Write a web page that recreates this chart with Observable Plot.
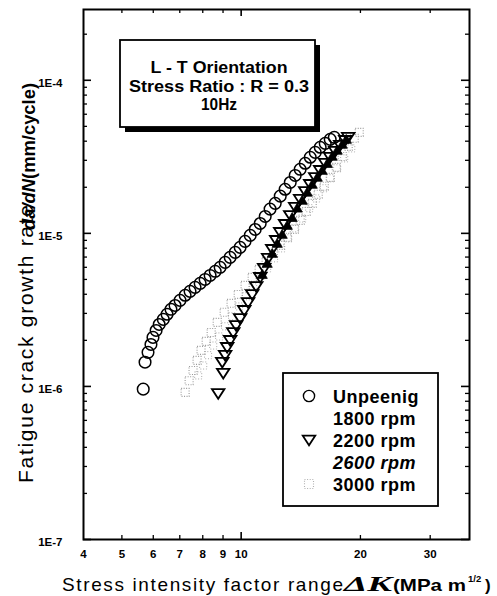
<!DOCTYPE html>
<html><head><meta charset="utf-8">
<script src="https://cdn.jsdelivr.net/npm/d3@7"></script>
<script src="https://cdn.jsdelivr.net/npm/@observablehq/plot@0.6"></script>
<style>
html,body{margin:0;padding:0;background:#fff;}
#chart{position:relative;width:497px;height:596px;}
</style></head><body><div id="chart"></div>
<script>
// ---- data ----
const seriesNames = ["Unpeenig", "1800 rpm", "2200 rpm", "2600 rpm", "3000 rpm"];

const unpeenK = [5.66,5.72,5.82,5.92,5.99,6.10,6.21,6.36,6.50,6.65,6.81,7.01,7.22,7.43,7.65,7.88,8.11,8.35,8.60,8.85,9.11,9.38,9.66,9.94,10.23,10.54,10.85,11.17,11.50,11.83,12.19,12.55,12.91,13.30,13.69,14.09,14.51,14.94,15.38,15.83,16.30,16.78,17.18];
const unpeenRate = [9.6e-7,1.44e-6,1.67e-6,1.88e-6,2.09e-6,2.32e-6,2.54e-6,2.74e-6,2.96e-6,3.19e-6,3.38e-6,3.65e-6,3.94e-6,4.18e-6,4.44e-6,4.71e-6,5.00e-6,5.31e-6,5.65e-6,6.00e-6,6.46e-6,6.97e-6,7.51e-6,8.10e-6,8.87e-6,9.70e-6,1.06e-5,1.16e-5,1.29e-5,1.44e-5,1.57e-5,1.75e-5,1.94e-5,2.15e-5,2.39e-5,2.62e-5,2.87e-5,3.14e-5,3.38e-5,3.65e-5,3.87e-5,4.11e-5,4.24e-5];

const rpm1800K = [11.30,11.63,11.98,12.33,12.69,13.07,13.45,13.85,14.26,14.68,15.11,15.56,16.01,16.49,16.97,17.47,17.99,18.42];
const rpm1800Rate = [5.31e-6,6.27e-6,7.29e-6,8.47e-6,9.70e-6,1.11e-5,1.25e-5,1.44e-5,1.62e-5,1.83e-5,2.06e-5,2.29e-5,2.54e-5,2.82e-5,3.14e-5,3.44e-5,3.76e-5,4.05e-5];

const rpm2200K = [8.75,9.01,8.96,9.11,9.22,9.38,9.55,9.71,9.94,10.18,10.41,10.66,10.91,11.17,11.43,11.70,11.98,12.26,12.55,12.91,13.30,13.69,14.09,14.51,14.94,15.38,15.83,16.30,16.78,17.28,17.78,18.31,18.63];
const rpm2200Rate = [9.0e-7,1.22e-6,1.44e-6,1.60e-6,1.80e-6,2.00e-6,2.25e-6,2.50e-6,2.78e-6,3.14e-6,3.54e-6,3.99e-6,4.50e-6,5.16e-6,5.91e-6,6.87e-6,7.86e-6,9.00e-6,1.015e-5,1.145e-5,1.31e-5,1.48e-5,1.67e-5,1.88e-5,2.09e-5,2.32e-5,2.58e-5,2.87e-5,3.14e-5,3.44e-5,3.76e-5,4.05e-5,4.24e-5];

const rpm2600K = [7.79,8.02,8.25,8.50,8.80,9.11,9.49,9.88,10.29,10.72,11.17,11.63,12.11,12.62,13.14,13.69,14.26,14.85,15.46,16.11,16.78,17.47,18.20,18.96];
const rpm2600Rate = [1.18e-6,1.37e-6,1.60e-6,1.85e-6,2.12e-6,2.47e-6,2.87e-6,3.33e-6,3.88e-6,4.44e-6,5.08e-6,5.91e-6,6.87e-6,7.98e-6,9.28e-6,1.078e-5,1.25e-5,1.46e-5,1.69e-5,1.97e-5,2.29e-5,2.66e-5,3.09e-5,3.59e-5];

const rpm3000K = [7.22,7.39,7.56,7.74,7.92,8.16,8.40,8.70,9.06,9.43,9.83,10.23,10.66,11.10,11.56,12.05,12.55,13.07,13.61,14.09,14.59,15.11,15.65,16.21,16.78,17.38,17.99,18.63,19.29,19.86];
const rpm3000Rate = [9.14e-7,1.09e-6,1.27e-6,1.48e-6,1.72e-6,1.97e-6,2.25e-6,2.62e-6,3.05e-6,3.49e-6,3.99e-6,4.57e-6,5.16e-6,5.82e-6,6.56e-6,7.40e-6,8.35e-6,9.42e-6,1.062e-5,1.216e-5,1.39e-5,1.57e-5,1.80e-5,2.03e-5,2.32e-5,2.70e-5,3.18e-5,3.70e-5,4.18e-5,4.57e-5];

const xTickValues = [4,5,6,7,8,9,10,20,30];
const xTickLabels = ["4","5","6","7","8","9","10","20","30"];
const xMinorTicks = [5,6,7,8,9,20,30];
const xMajorTicks = [10];
const yMajorTicks = [1e-7,1e-6,1e-5,1e-4];
const yTickLabels = ["1E-7","1E-6","1E-5","1E-4"];
const yMinorTicks = [2e-7,3e-7,4e-7,5e-7,6e-7,7e-7,8e-7,9e-7,2e-6,3e-6,4e-6,5e-6,6e-6,7e-6,8e-6,9e-6,2e-5,3e-5,4e-5,5e-5,6e-5,7e-5,8e-5,9e-5,2e-4];

const boxLines = ["L - T Orientation", "Stress Ratio : R = 0.3", "10Hz"];

// ---- build ----
const zip = (k, r) => k.map((v, i) => ({k: v, r: r[i]}));
const W = 497, H = 596, mL = 83, mR = 28, mT = 9, mB = 57;
const fw = W - mL - mR, fh = H - mT - mB;

const triDown = {
  draw(ctx, size) {
    const r = Math.sqrt(size / Math.PI);
    ctx.moveTo(0, r * 1.0);
    ctx.lineTo(-r * 1.18, -r * 0.82);
    ctx.lineTo(r * 1.18, -r * 0.82);
    ctx.closePath();
  }
};

const plot = Plot.plot({
  width: W, height: H,
  marginLeft: mL, marginRight: mR, marginTop: mT, marginBottom: mB,
  x: {type: "log", domain: [4, 37.7], axis: null},
  y: {type: "log", domain: [1e-7, 2.9e-4], axis: null},
  style: {fontFamily: "'Liberation Sans', Arial, sans-serif", background: "white", color: "black", overflow: "visible"},
  marks: [
    Plot.tickY(yMinorTicks, {y: d => d, insetRight: fw - 4, strokeWidth: 1.3}),
    Plot.tickY(yMinorTicks, {y: d => d, insetLeft: fw - 4, strokeWidth: 1.3}),
    Plot.tickY(yMajorTicks, {y: d => d, insetRight: fw - 8, strokeWidth: 1.6}),
    Plot.tickY(yMajorTicks, {y: d => d, insetLeft: fw - 8, strokeWidth: 1.6}),
    Plot.tickX(xMinorTicks, {x: d => d, insetTop: fh - 4, strokeWidth: 1.3}),
    Plot.tickX(xMinorTicks, {x: d => d, insetBottom: fh - 4, strokeWidth: 1.3}),
    Plot.tickX(xMajorTicks, {x: d => d, insetTop: fh - 7, strokeWidth: 1.6}),
    Plot.tickX(xMajorTicks, {x: d => d, insetBottom: fh - 7, strokeWidth: 1.6}),
    Plot.text(yMajorTicks, {y: d => d, text: (d, i) => yTickLabels[i], frameAnchor: "left", dx: -21, dy: 3, textAnchor: "end", fontWeight: "bold", fontSize: 11.5}),
    Plot.text(xTickValues, {x: d => d, text: (d, i) => xTickLabels[i], frameAnchor: "bottom", dy: 18, fontWeight: "bold", fontSize: 11.5}),
    Plot.dot(zip(rpm2600K, rpm2600Rate), {x: "k", y: "r", symbol: "square", r: 4, stroke: "#aaaaaa", strokeWidth: 1, strokeDasharray: "1,1.8", fill: "none"}),
    Plot.dot(zip(rpm3000K, rpm3000Rate), {x: "k", y: "r", symbol: "square", r: 4.5, stroke: "#999999", strokeWidth: 1.1, strokeDasharray: "1,1.5", fill: "none"}),
    Plot.dot(zip(rpm1800K, rpm1800Rate), {x: "k", y: "r", symbol: "triangle", r: 3.8, fill: "black", stroke: "black", strokeWidth: 0.8}),
    Plot.dot(zip(rpm2200K, rpm2200Rate), {x: "k", y: "r", symbol: triDown, r: 5.3, fill: "none", stroke: "black", strokeWidth: 1.8}),
    Plot.dot(zip(unpeenK, unpeenRate), {x: "k", y: "r", r: 5.8, fill: "none", stroke: "black", strokeWidth: 1.5}),
    Plot.frame({stroke: "black", strokeWidth: 2})
  ]
});
document.getElementById("chart").appendChild(plot);

// ---- annotations (text boxes, legend, axis titles) ----
const svg = d3.select(plot);
const g = svg.append("g").attr("font-family", "'Liberation Sans', Arial, sans-serif").attr("text-anchor", "start").attr("fill", "black");

// info box with shadow
g.append("rect").attr("x", 125).attr("y", 45).attr("width", 195).attr("height", 87).attr("fill", "black");
g.append("rect").attr("x", 120).attr("y", 40).attr("width", 195).attr("height", 87).attr("fill", "white").attr("stroke", "black").attr("stroke-width", 1.8);
const boxBase = [73, 91.5, 110], boxLen = [137, 180, 36];
boxLines.forEach((t, i) => {
  g.append("text").attr("x", 219).attr("y", boxBase[i]).attr("text-anchor", "middle")
    .attr("font-size", 16).attr("font-weight", "bold")
    .attr("textLength", boxLen[i]).attr("lengthAdjust", "spacingAndGlyphs").text(t);
});

// legend
g.append("rect").attr("x", 283).attr("y", 373).attr("width", 155).attr("height", 133).attr("fill", "white").attr("stroke", "black").attr("stroke-width", 1.8);
const rowY = [396, 418, 440, 462, 484];
seriesNames.forEach((name, i) => {
  g.append("text").attr("x", 333).attr("y", rowY[i] + 6.5).attr("text-anchor", "start")
    .attr("font-size", 18).attr("font-weight", "bold")
    .attr("font-style", name === "2600 rpm" ? "italic" : "normal")
    .attr("letter-spacing", 0.5).text(name);
});
g.append("circle").attr("cx", 309).attr("cy", rowY[0]).attr("r", 5.6).attr("fill", "none").attr("stroke", "black").attr("stroke-width", 1.4);
g.append("path").attr("transform", `translate(309,${rowY[2]})`).attr("d", d3.symbol(triDown, Math.PI * 5.3 * 5.3)()).attr("fill", "none").attr("stroke", "black").attr("stroke-width", 1.8);
g.append("path").attr("transform", `translate(309,${rowY[4]})`).attr("d", d3.symbol(d3.symbolSquare, 81)()).attr("fill", "none").attr("stroke", "#b0b0b0").attr("stroke-width", 1.1).attr("stroke-dasharray", "1,1.6");

// x-axis title
const xt = g.append("g").attr("text-anchor", "start");
xt.append("text").attr("x", 62).attr("y", 591).attr("font-size", 19).attr("textLength", 281).attr("lengthAdjust", "spacing").text("Stress intensity factor range");
xt.append("text").attr("x", 344).attr("y", 591).attr("font-size", 21).attr("font-family", "'Liberation Serif', 'Times New Roman', serif").attr("font-style", "italic").attr("font-weight", "bold").attr("textLength", 48).attr("lengthAdjust", "spacingAndGlyphs").text("ΔK");
xt.append("text").attr("x", 393).attr("y", 591).attr("font-size", 17).attr("font-weight", "bold").attr("textLength", 73).attr("lengthAdjust", "spacingAndGlyphs").text("(MPa m");
xt.append("text").attr("x", 468).attr("y", 582).attr("font-size", 9.5).attr("font-weight", "bold").text("1/2");
xt.append("text").attr("x", 485).attr("y", 591).attr("font-size", 17).attr("font-weight", "bold").text(")");

// y-axis title (rotated)
const yt = g.append("g").attr("transform", "rotate(-90)").attr("text-anchor", "start");
yt.append("text").attr("x", -483).attr("y", 33).attr("font-size", 21).attr("textLength", 278).attr("lengthAdjust", "spacing").text("Fatigue crack growth rate");
const yt2 = yt.append("text").attr("x", -230).attr("y", 35).attr("font-size", 18).attr("font-weight", "bold").attr("textLength", 147).attr("lengthAdjust", "spacingAndGlyphs");
yt2.append("tspan").attr("font-style", "italic").text("da/dN");
yt2.append("tspan").text("(mm/cycle)");
</script>
</body></html>
